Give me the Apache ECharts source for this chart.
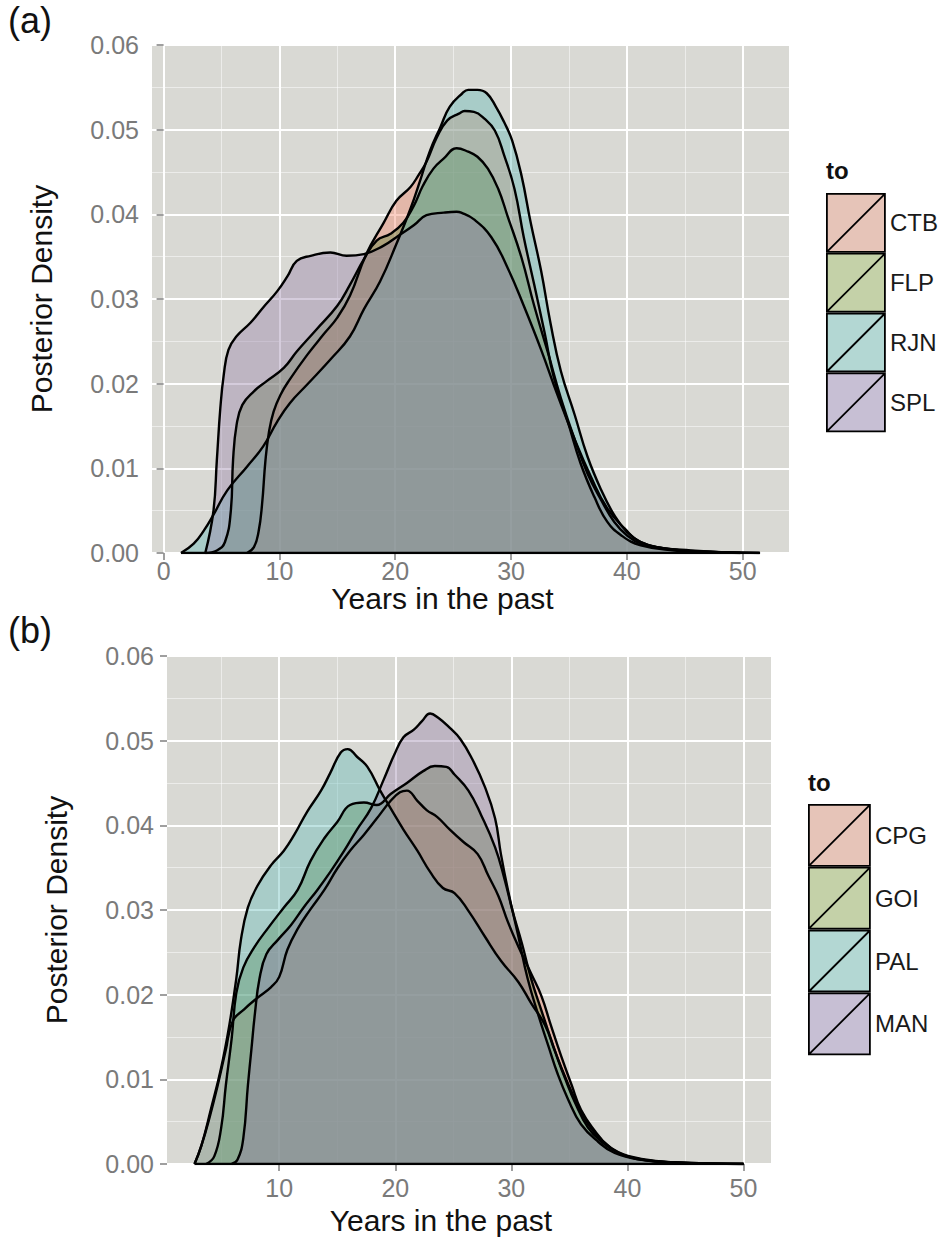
<!DOCTYPE html>
<html>
<head>
<meta charset="utf-8">
<script src="https://cdn.jsdelivr.net/npm/echarts@6/dist/echarts.min.js"></script>
<style>
  html, body { margin: 0; padding: 0; background: #fff; }
  #chart { width: 944px; height: 1243px; }
</style>
</head>
<body>
<div id="chart"></div>
<script>
// panel (a) densities, [years, density]
const ctb = [[7.2,0],[7.8,0.0007],[8.2,0.0025],[8.5,0.0057],[8.8,0.011],[9.1,0.0143],[9.5,0.0167],[10.1,0.0187],[10.9,0.0205],[12.4,0.0234],[13.8,0.0258],[15.0,0.0278],[16.1,0.0304],[17.5,0.0353],[19.0,0.039],[20.1,0.0416],[21.3,0.0432],[22.0,0.0446],[22.7,0.0462],[23.6,0.0491],[24.5,0.0511],[25.5,0.0519],[26.0,0.0522],[26.8,0.0521],[27.7,0.0513],[28.6,0.0499],[29.4,0.047],[30.3,0.043],[31.1,0.0373],[32.0,0.0317],[32.9,0.026],[33.7,0.0207],[34.9,0.0155],[36.0,0.0106],[37.2,0.0066],[38.3,0.0037],[39.5,0.0021],[41.2,0.0009],[44.1,0.0003],[46.9,0.0001],[49.8,0]];
const flp = [[3.6,0],[4.6,0.0003],[5.3,0.0013],[5.8,0.0049],[6.0,0.011],[6.3,0.0151],[6.8,0.0175],[7.8,0.0191],[8.9,0.0203],[10.4,0.0219],[11.5,0.0238],[13.2,0.0264],[15.0,0.0292],[16.1,0.0317],[17.3,0.0347],[18.4,0.0369],[19.6,0.0377],[20.7,0.039],[21.6,0.041],[22.4,0.0434],[23.3,0.0454],[24.2,0.0466],[25.3,0.0478],[26.3,0.0474],[27.1,0.0468],[28.0,0.0454],[28.9,0.043],[29.7,0.0398],[30.9,0.0349],[32.0,0.0292],[33.2,0.0236],[34.3,0.0183],[35.5,0.0134],[36.6,0.0094],[37.8,0.0062],[38.9,0.0037],[40.0,0.0021],[41.2,0.0011],[44.1,0.0004],[46.9,0.00016],[49.8,0]];
const rjn = [[1.5,0],[2.6,0.0011],[3.5,0.0027],[4.3,0.0045],[5.5,0.0074],[7.2,0.0102],[8.6,0.0126],[9.8,0.0155],[10.9,0.0177],[12.4,0.0199],[14.5,0.023],[16.1,0.0256],[17.3,0.0288],[18.7,0.0321],[20.1,0.0365],[21.3,0.0406],[22.2,0.0442],[23.0,0.0475],[23.9,0.0503],[24.7,0.0527],[25.8,0.0543],[26.3,0.0547],[27.1,0.0547],[27.9,0.0543],[28.7,0.0527],[29.4,0.0509],[30.1,0.0487],[30.9,0.0446],[31.7,0.039],[32.6,0.0333],[33.4,0.0272],[34.3,0.0215],[35.5,0.0163],[36.6,0.0114],[37.8,0.0074],[38.9,0.0045],[40.0,0.0025],[41.2,0.0013],[42.6,0.0007],[45.5,0.0003],[48.4,0.0001],[51.4,0]];
const spl = [[3.6,0],[4.3,0.0049],[4.6,0.011],[4.9,0.0171],[5.2,0.0211],[5.6,0.024],[6.3,0.0256],[7.5,0.0272],[8.6,0.029],[9.8,0.0309],[10.7,0.0327],[11.5,0.0345],[12.7,0.0351],[14.4,0.0355],[15.8,0.0351],[17.3,0.0353],[19.0,0.0363],[20.1,0.0373],[21.6,0.0387],[22.7,0.0399],[24.2,0.0402],[25.3,0.0403],[25.7,0.0402],[26.8,0.0394],[28.3,0.0373],[29.7,0.0337],[31.1,0.0292],[32.6,0.024],[34.0,0.0187],[35.5,0.0134],[36.9,0.009],[38.3,0.0053],[39.8,0.0029],[41.2,0.0013],[44.1,0.0004],[46.9,0.00016],[51.5,0]];

// panel (b) densities
const cpg = [[2.7,0],[3.3,0.0022],[4.0,0.0055],[4.7,0.0093],[5.4,0.0135],[6.0,0.0169],[7.0,0.0183],[8.1,0.0196],[9.3,0.0209],[10.0,0.0221],[10.7,0.0253],[11.6,0.0278],[12.7,0.0301],[13.9,0.0324],[15.0,0.0349],[16.1,0.037],[17.3,0.0389],[18.4,0.0408],[19.6,0.0429],[20.4,0.0439],[21.0,0.0441],[21.9,0.0429],[22.7,0.0418],[23.6,0.041],[24.7,0.0395],[25.9,0.038],[27.1,0.0366],[28.0,0.0341],[28.9,0.0316],[29.7,0.0286],[30.6,0.0257],[31.7,0.0225],[32.6,0.0198],[33.4,0.0164],[34.3,0.0127],[35.2,0.0093],[36.0,0.0064],[37.2,0.0039],[38.3,0.0022],[39.8,0.001],[41.8,0.0004],[44.6,0.00013],[50,0]];
const goi = [[3.7,0],[4.4,0.0009],[5.0,0.0043],[5.4,0.0093],[5.9,0.0148],[6.3,0.0202],[6.9,0.0232],[7.9,0.0257],[9.0,0.0278],[10.4,0.0303],[11.6,0.0324],[12.7,0.0358],[13.9,0.0385],[15.0,0.0404],[16.1,0.0424],[17.3,0.0427],[18.4,0.0424],[19.6,0.0437],[21.0,0.045],[22.4,0.0464],[23.4,0.047],[24.4,0.0469],[25.1,0.046],[26.3,0.0441],[27.4,0.0412],[28.6,0.0374],[29.4,0.0337],[30.1,0.0299],[30.9,0.0261],[31.7,0.0219],[32.6,0.0181],[33.4,0.0148],[34.3,0.0114],[35.5,0.0076],[36.6,0.0047],[37.8,0.0028],[39.2,0.0014],[41.2,0.0006],[44.1,0.0002],[50,0]];
const pal = [[2.7,0],[3.3,0.0022],[4.1,0.0064],[5.0,0.0114],[5.7,0.0164],[6.3,0.0219],[6.7,0.0265],[7.3,0.0303],[8.1,0.0328],[9.3,0.0353],[10.4,0.037],[11.3,0.0389],[12.4,0.0416],[13.6,0.0441],[14.4,0.0462],[15.3,0.0486],[15.9,0.049],[16.7,0.0481],[17.6,0.0469],[18.7,0.0441],[19.6,0.042],[20.7,0.0395],[21.9,0.037],[23.0,0.0345],[24.1,0.0326],[25.1,0.032],[26.3,0.0299],[27.7,0.0269],[29.1,0.024],[30.6,0.0215],[31.7,0.019],[32.9,0.0164],[33.7,0.0135],[34.6,0.0102],[35.5,0.0072],[36.6,0.0043],[37.8,0.0026],[39.2,0.0013],[40.6,0.0007],[42.6,0.0003],[45.5,0.0001],[50,0]];
const man = [[5.9,0],[6.4,0.0005],[6.9,0.003],[7.3,0.0093],[7.6,0.0135],[7.9,0.0177],[8.3,0.0219],[8.9,0.0248],[9.9,0.0265],[11.0,0.0282],[12.1,0.0303],[13.3,0.0324],[14.4,0.0345],[15.6,0.037],[16.7,0.0395],[17.9,0.042],[19.0,0.0454],[19.9,0.0483],[20.7,0.0504],[21.6,0.0513],[22.3,0.0523],[23.0,0.0532],[23.7,0.0527],[24.7,0.0515],[25.6,0.0502],[26.6,0.0479],[27.7,0.0446],[28.6,0.0408],[29.1,0.0366],[29.7,0.0324],[30.6,0.0269],[31.4,0.0219],[32.3,0.0177],[33.2,0.0139],[34.0,0.0106],[34.9,0.0076],[36.0,0.0047],[37.5,0.0026],[38.9,0.0013],[41.2,0.0005],[44.1,0.00017],[50,0]];

const namesA = ["CTB", "FLP", "RJN", "SPL"];
const namesB = ["CPG", "GOI", "PAL", "MAN"];
const dataA = [ctb, flp, rjn, spl];
const dataB = [cpg, goi, pal, man];

const majorTicksA = [0, 10, 20, 30, 40, 50];
const minorTicksA = [5, 15, 25, 35, 45];
const majorTicksB = [10, 20, 30, 40, 50];
const minorTicksB = [5, 15, 25, 35, 45];

const fills = ["#f2856a", "#577d35", "#5eb9b7", "#9580a8"];
const keyFills = ["#e6c4b8", "#c4d1a8", "#b3d7d3", "#c7bfd4"];
const FONT = "Liberation Sans, Arial, Helvetica, sans-serif";

const chart = echarts.init(document.getElementById("chart"), null, { renderer: "svg" });

function xAxes(gridIndex, min, max, majors, minors, labelMargin, nameGap) {
  return [
    {
      type: "value", gridIndex: gridIndex, min: min, max: max, position: "bottom",
      axisLine: { show: false },
      axisTick: { show: true, length: 7, customValues: majors, lineStyle: { color: "#7f7f7f", width: 1.5 } },
      axisLabel: { customValues: majors, margin: labelMargin, fontSize: 25, color: "#7a7a7a", fontFamily: FONT },
      splitLine: { show: true, lineStyle: { color: "#ffffff", width: 2 } },
      name: "Years in the past", nameLocation: "middle", nameGap: nameGap,
      nameTextStyle: { fontSize: 30, color: "#111", fontFamily: FONT, padding: [0, 56, 0, 0] }
    },
    {
      type: "value", gridIndex: gridIndex, min: min, max: max, position: "top",
      axisLine: { show: false },
      axisTick: { show: false, customValues: minors },
      axisLabel: { show: false, customValues: minors },
      splitLine: { show: true, lineStyle: { color: "rgba(255,255,255,0.5)", width: 1 } }
    }
  ];
}

function yAxis(gridIndex) {
  return {
    type: "value", gridIndex: gridIndex, min: 0, max: 0.06, interval: 0.01,
    axisLine: { show: false },
    axisTick: { show: true, length: 7, lineStyle: { color: "#7f7f7f", width: 1.5 } },
    axisLabel: { margin: 13, fontSize: 25, color: "#7a7a7a", fontFamily: FONT, formatter: v => v.toFixed(2) },
    splitLine: { show: true, lineStyle: { color: "#ffffff", width: 2 } },
    minorTick: { show: false, splitNumber: 2 },
    minorSplitLine: { show: true, lineStyle: { color: "rgba(255,255,255,0.5)", width: 1 } },
    name: "Posterior Density", nameLocation: "middle", nameGap: 96,
    nameTextStyle: { fontSize: 30, color: "#111", fontFamily: FONT }
  };
}

function densitySeries(names, data, xIdx, yIdx) {
  const out = names.map((n, i) => ({
    name: n, type: "line", xAxisIndex: xIdx, yAxisIndex: yIdx,
    data: data[i], smooth: 0.45,
    showSymbol: false, symbol: "none", color: fills[i],
    lineStyle: { color: "#000", width: 2.4 },
    areaStyle: { color: fills[i], opacity: 0.4 },
    emphasis: { disabled: true }, silent: true
  }));
  // black base of the density polygons
  const lo = Math.min(...data.map(d => d[0][0]));
  const hi = Math.max(...data.map(d => d[d.length - 1][0]));
  out.push({
    name: "base" + xIdx, type: "line", xAxisIndex: xIdx, yAxisIndex: yIdx,
    data: [[lo, 0], [hi, 0]], showSymbol: false, symbol: "none",
    lineStyle: { color: "#000", width: 2.4 }, silent: true, z: 3
  });
  return out;
}

function legendFor(names, left, top, size) {
  return {
    orient: "vertical", left: left, top: top, padding: 0, itemGap: 0,
    itemWidth: size[0], itemHeight: size[1], selectedMode: false,
    textStyle: { fontSize: 24, color: "#1a1a1a", fontFamily: FONT },
    data: names.map((n, i) => ({
      name: n,
      icon: "path://M0,0L60,0L60,60L0,60Z M0,60L60,0",
      itemStyle: { color: keyFills[i], borderColor: "#000", borderWidth: 1.8 }
    }))
  };
}

const option = {
  animation: false,
  backgroundColor: "#ffffff",
  textStyle: { fontFamily: FONT },
  title: [
    { text: "(a)", left: 8, top: 2, padding: 0, textStyle: { fontSize: 36, fontWeight: "normal", color: "#111", fontFamily: FONT } },
    { text: "(b)", left: 8, top: 612, padding: 0, textStyle: { fontSize: 36, fontWeight: "normal", color: "#111", fontFamily: FONT } },
    { text: "to", left: 826, top: 158, padding: 0, textStyle: { fontSize: 24, fontWeight: "bold", color: "#111", fontFamily: FONT } },
    { text: "to", left: 808, top: 770, padding: 0, textStyle: { fontSize: 24, fontWeight: "bold", color: "#111", fontFamily: FONT } }
  ],
  legend: [
    legendFor(namesA, 826, 193, [58, 61]),
    legendFor(namesB, 808, 804, [61, 61])
  ],
  grid: [
    { left: 152, right: 155, top: 45, bottom: 690, show: true, backgroundColor: "#d9d9d4", borderWidth: 0 },
    { left: 167, right: 173, top: 656, bottom: 79, show: true, backgroundColor: "#d9d9d4", borderWidth: 0 }
  ],
  xAxis: [].concat(
    xAxes(0, -1.0, 54.0, majorTicksA, minorTicksA, 5, 25),
    xAxes(1, 0.33, 52.37, majorTicksB, minorTicksB, 11, 41)
  ),
  yAxis: [yAxis(0), yAxis(1)],
  series: [].concat(
    densitySeries(namesA, dataA, 0, 0),
    densitySeries(namesB, dataB, 2, 1)
  )
};

chart.setOption(option);
window.addEventListener("resize", () => chart.resize());
</script>
</body>
</html>
